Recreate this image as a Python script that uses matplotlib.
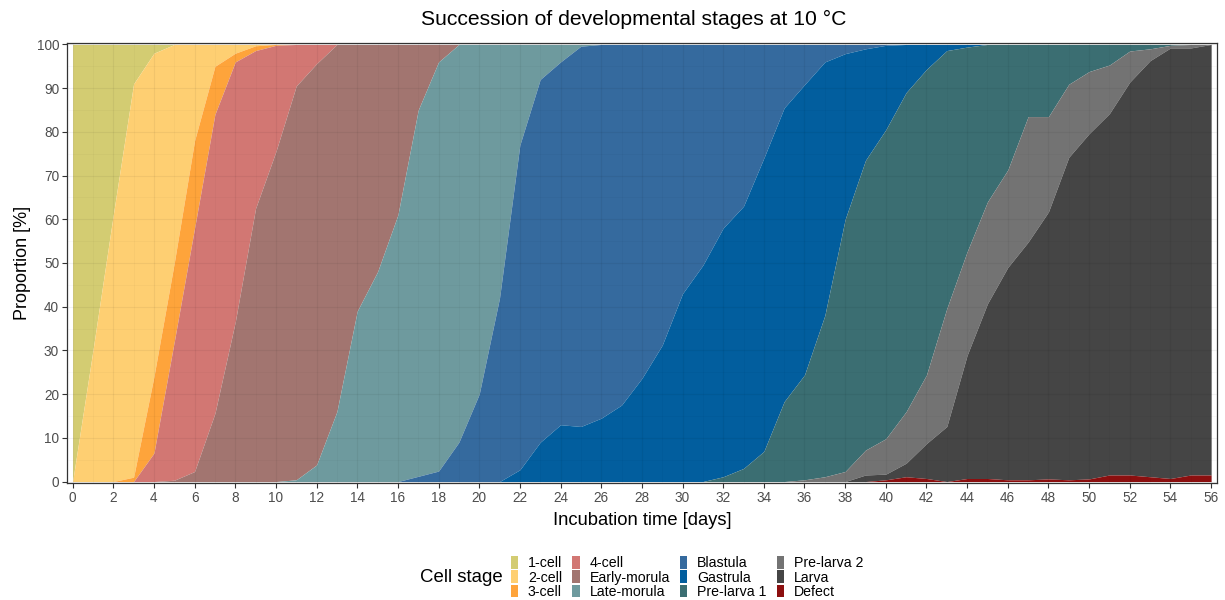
import numpy as np
import matplotlib
matplotlib.use("Agg")
import matplotlib.pyplot as plt
from matplotlib.patches import Patch
from matplotlib.ticker import MultipleLocator

plt.rcParams['font.family'] = ['Liberation Sans', 'DejaVu Sans']

days = list(range(0, 57))

# Cumulative share (%) of eggs that reached at least the given stage
reach_2cell = [0, 30, 61, 91, 98, 100] + [100] * 51
reach_3cell = [0, 0, 0, 1, 24, 50, 78, 95, 98, 99.7, 100] + [100] * 46
reach_4cell = [0, 0, 0, 0, 6.5, 32, 58, 84, 96, 98.6, 99.8, 100] + [100] * 45
reach_early_morula = [0, 0, 0, 0, 0, 0.3, 2.3, 15.6, 36.5, 62.5, 75.5, 90.5, 95.6, 100] + [100] * 43
reach_late_morula = [0] * 11 + [0.4, 3.8, 16, 39, 48, 61, 85, 96, 100] + [100] * 37
reach_blastula = [0] * 16 + [0, 1.2, 2.4, 9, 20, 42, 77, 92, 96, 99.6, 100] + [100] * 30
reach_gastrula = [0] * 22 + [2.7, 9, 13, 12.6, 14.5, 17.5, 23.6, 31.2, 43, 49.5, 58, 63,
                             74, 85.5, 90.8, 96, 97.9, 99, 99.8, 100] + [100] * 15
reach_prelarva1 = [0] * 32 + [1.1, 3, 6.9, 18.3, 24.4, 38, 60, 73.5, 80.5, 89, 94.3, 98.6,
                              99.4, 100] + [100] * 11
reach_prelarva2 = [0] * 36 + [0.4, 1.1, 2.3, 7.2, 9.8, 16, 24.4, 39.6, 52.6, 64, 71.3, 83.5,
                              83.5, 90.9, 93.8, 95.3, 98.5, 99, 99.8, 100, 100]
reach_larva = [0] * 39 + [1.5, 1.7, 4.2, 8.7, 12.6, 28.9, 40.7, 49, 54.8, 61.7, 74.2, 79.6,
                          84.2, 91.4, 96.3, 99.2, 99.2, 100]
defect = [0] * 40 + [0.4, 1.1, 0.7, 0, 0.7, 0.7, 0.4, 0.4, 0.6, 0.4, 0.6, 1.5, 1.5, 1.1,
                     0.7, 1.5, 1.5]
total = [100] * 57

stages = ["1-cell", "2-cell", "3-cell", "4-cell", "Early-morula", "Late-morula",
          "Blastula", "Gastrula", "Pre-larva 1", "Pre-larva 2", "Larva", "Defect"]
colors = ["#D3CC72", "#FECF72", "#FEA43B", "#D27773", "#A27570", "#6E9A9E",
          "#356A9E", "#025E9E", "#3B6E72", "#737373", "#454545", "#8C0F0F"]

# boundaries: upper then lower edge for each stage
uppers = [total, reach_2cell, reach_3cell, reach_4cell, reach_early_morula, reach_late_morula,
          reach_blastula, reach_gastrula, reach_prelarva1, reach_prelarva2, reach_larva, defect]
lowers = uppers[1:] + [[0] * 57]

fig = plt.figure(figsize=(12.25, 6), dpi=100)
ax = fig.add_axes([66.7 / 1225, 1 - 483.3 / 600, (1217 - 66.7) / 1225, (483.3 - 42.7) / 600])

for up, lo, c in zip(uppers, lowers, colors):
    ax.fill_between(days, lo, up, color=c, linewidth=0, zorder=1)

ax.set_xlim(-0.29, 56.29)
ax.set_ylim(-0.4, 100.4)
ax.xaxis.set_major_locator(MultipleLocator(2))
ax.xaxis.set_minor_locator(MultipleLocator(1))
ax.yaxis.set_major_locator(MultipleLocator(10))
ax.yaxis.set_minor_locator(MultipleLocator(5))
ax.grid(True, which='major', color='black', alpha=0.05, linewidth=0.8)
ax.grid(True, which='minor', color='black', alpha=0.03, linewidth=0.5)
ax.tick_params(which='major', length=3.5, width=0.8, color='#333333',
               labelsize=9.8, labelcolor='#4D4D4D', pad=2)
ax.tick_params(which='minor', length=0)
for s in ax.spines.values():
    s.set_color('#333333')
    s.set_linewidth(0.9)

ax.set_xlabel("Incubation time [days]", fontsize=13.2, color='black', labelpad=5)
ax.set_ylabel("Proportion [%]", fontsize=13, color='black', labelpad=4)
fig.text(634 / 1225, 1 - 19 / 600, "Succession of developmental stages at 10 °C",
         ha='center', va='center', fontsize=15.2)

handles = [Patch(facecolor=c, edgecolor='none', label=s) for s, c in zip(stages, colors)]
fig.legend(handles=handles, loc='center left', bbox_to_anchor=(511 / 1225, 1 - 577.5 / 600),
           ncol=4, frameon=False, fontsize=10.2, handlelength=0.5, handleheight=1.0,
           handletextpad=0.7, columnspacing=0.72, labelspacing=0.0,
           borderpad=0, borderaxespad=0)
fig.text(503 / 1225, 1 - 578 / 600, "Cell stage", ha='right', va='center', fontsize=13.4)

fig.savefig("out.png", dpi=100)
